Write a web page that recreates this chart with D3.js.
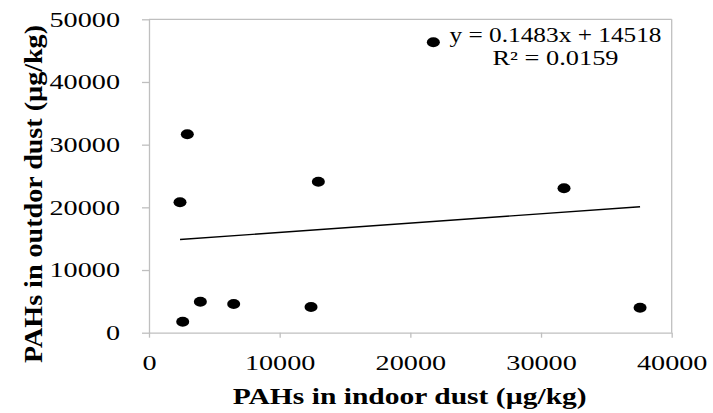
<!DOCTYPE html>
<html>
<head>
<meta charset="utf-8">
<script src="https://cdn.jsdelivr.net/npm/d3@7"></script>
<style>
  html, body { margin: 0; padding: 0; background: #fff; }
  svg { display: block; }
  svg text { font-family: "Liberation Serif", Tinos, "Times New Roman", Times, "DejaVu Serif", serif !important; fill: #000; }
</style>
</head>
<body>
<svg id="chart" width="713" height="413"></svg>
<script>
// ---- data ----
const indoor  = [2932, 12960, 2373, 21760, 31760, 2580, 3930, 6480, 12400, 37580];
const outdoor = [31650, 24090, 20800, 46330, 23040, 1755, 4950, 4580, 4100, 3990];
const xTicks = [0, 10000, 20000, 30000, 40000];
const yTicks = [0, 10000, 20000, 30000, 40000, 50000];
const trendSlope = 0.1483;
const trendIntercept = 14518;
const equationLines = ["y = 0.1483x + 14518", "R\u00B2 = 0.0159"];
const xTitle = "PAHs in indoor dust (\u00B5g/kg)";
const yTitle = "PAHs in outdor dust (\u00B5g/kg)";

// ---- layout ----
const svg = d3.select("#chart");
const L = 149, R = 671.7, T = 19.3, B = 332.7;
const x = d3.scaleLinear().domain([0, 40000]).range([L, R]);
const y = d3.scaleLinear().domain([0, 50000]).range([B, T]);
const gray = "#bfbfbf";
const DIGIT_W = 14.1;

// plot border (top and right)
svg.append("line").attr("x1", L).attr("x2", R).attr("y1", T).attr("y2", T)
  .attr("stroke", gray).attr("stroke-width", 1.3);
svg.append("line").attr("x1", R).attr("x2", R).attr("y1", T).attr("y2", B)
  .attr("stroke", gray).attr("stroke-width", 1.3);

// axes
const gx = svg.append("g").attr("transform", `translate(0,${B})`)
  .call(d3.axisBottom(x).tickValues(xTicks).tickFormat(d3.format("d")).tickSizeInner(5).tickSizeOuter(0).tickPadding(18));
const gy = svg.append("g").attr("transform", `translate(${L},0)`)
  .call(d3.axisLeft(y).tickValues(yTicks).tickFormat(d3.format("d")).tickSizeInner(7).tickSizeOuter(0).tickPadding(22));

[gx, gy].forEach(g => {
  g.attr("font-family", null).attr("font-size", null);
  g.select(".domain").attr("stroke", gray).attr("stroke-width", 1.3);
  g.selectAll(".tick line").attr("stroke", gray).attr("stroke-width", 1.3);
  g.selectAll(".tick text").attr("font-size", 20).attr("fill", "#000")
    .attr("textLength", function () { return this.textContent.length * DIGIT_W; })
    .attr("lengthAdjust", "spacingAndGlyphs");
});
gy.selectAll(".tick text").attr("dy", "0.34em");

// trendline
const xmin = d3.min(indoor), xmax = d3.max(indoor);
svg.append("line")
  .attr("x1", x(xmin)).attr("y1", y(trendSlope * xmin + trendIntercept))
  .attr("x2", x(xmax)).attr("y2", y(trendSlope * xmax + trendIntercept))
  .attr("stroke", "#000").attr("stroke-width", 1.4);

// points
svg.append("g").selectAll("ellipse")
  .data(indoor.map((d, i) => [d, outdoor[i]]))
  .join("ellipse")
  .attr("cx", d => x(d[0])).attr("cy", d => y(d[1]))
  .attr("rx", 6.5).attr("ry", 5)
  .attr("fill", "#000");

// equation
const eq = svg.append("g");
eq.append("text").attr("x", 555.5).attr("y", 41.5).attr("text-anchor", "middle")
  .attr("font-size", 20).attr("textLength", 212).attr("lengthAdjust", "spacingAndGlyphs")
  .text(equationLines[0]);
eq.append("text").attr("x", 555.5).attr("y", 65).attr("text-anchor", "middle")
  .attr("font-size", 20).attr("textLength", 126).attr("lengthAdjust", "spacingAndGlyphs")
  .text(equationLines[1]);

// axis titles
svg.append("text").attr("x", 409.7).attr("y", 403.5).attr("text-anchor", "middle")
  .attr("font-size", 22.5).attr("font-weight", "bold")
  .attr("textLength", 354).attr("lengthAdjust", "spacingAndGlyphs")
  .text(xTitle);
svg.append("text").attr("transform", "translate(41.5,194) rotate(-90)")
  .attr("text-anchor", "middle")
  .attr("font-size", 26).attr("font-weight", "bold")
  .attr("textLength", 338).attr("lengthAdjust", "spacingAndGlyphs")
  .text(yTitle);
</script>
</body>
</html>
